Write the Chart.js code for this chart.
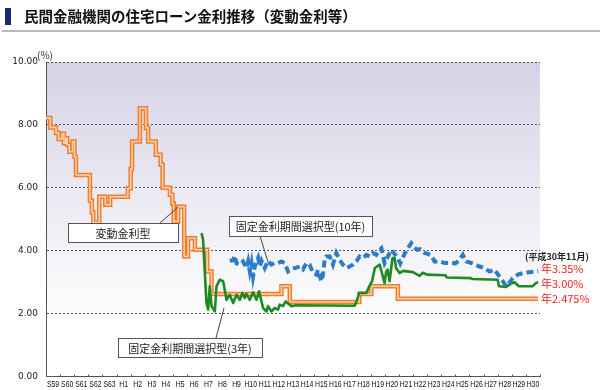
<!DOCTYPE html>
<html>
<head>
<meta charset="utf-8">
<script src="https://cdn.jsdelivr.net/npm/chart.js"></script>
<style>
  body { margin: 0; background: #fff; }
  #wrap { position: relative; width: 600px; height: 390px; overflow: hidden; }
  #bar { position: absolute; left: 5px; top: 8px; width: 6px; height: 17px; background: #1e2a78; }
  #title { position: absolute; left: 24px; top: 5px; font: bold 14.5px "Noto Sans CJK JP", sans-serif; color: #111; white-space: nowrap; }
  #rule { position: absolute; left: 2px; right: 0; top: 30px; height: 2px; background: #b8b8b8; }
  canvas { position: absolute; left: 0; top: 0; }
</style>
</head>
<body>
<div id="wrap">
  <canvas id="chart" width="600" height="390"></canvas>
  <div id="bar"></div>
  <div id="title">民間金融機関の住宅ローン金利推移（変動金利等）</div>
  <div id="rule"></div>
</div>
<script>
// x axis: one label per year, S59 (1984) .. H30 (2018)
const xTickLabels = ["S59","S60","S61","S62","S63","H1","H2","H3","H4","H5","H6","H7","H8","H9","H10",
  "H11","H12","H13","H14","H15","H16","H17","H18","H19","H20","H21","H22","H23","H24","H25","H26",
  "H27","H28","H29","H30"];
const firstYear = 1984;
const yTicks = [0, 2, 4, 6, 8, 10];

// 変動金利型 (step changes: time the rate took effect, rate %)
const hendoTimes = [1984.0, 1984.3, 1984.71, 1984.9, 1985.15, 1985.27, 1985.4, 1985.5, 1985.65, 1985.88,
  1986.02, 1986.12, 1987.11, 1987.25, 1987.35, 1987.77, 1988.2, 1988.55, 1989.8, 1990.0, 1990.1,
  1990.65, 1991.08, 1991.24, 1991.78, 1992.12, 1992.26, 1992.78, 1992.95, 1993.05, 1993.36, 1993.79,
  1994.07, 1994.55, 1995.42, 1995.73, 2000.68, 2001.27, 2006.2, 2007.05, 2008.93, 2018.87];
const hendoRates = [8.22, 7.92, 7.74, 7.55, 7.72, 7.42, 7.58, 7.37, 7.15, 7.47,
  6.99, 6.41, 5.6, 5.22, 4.9, 5.72, 5.46, 5.72, 5.99, 6.6, 7.47,
  8.53, 7.9, 7.47, 7.05, 6.73, 6.0, 5.78, 5.5, 4.93, 5.4, 3.82,
  4.4, 4.03, 3.34, 2.625, 2.875, 2.375, 2.625, 2.875, 2.475, 2.475];

// 固定金利期間選択型 (3年)
const kotei3Times = [1995.02, 1995.13, 1995.37, 1995.49, 1995.6, 1995.73, 1995.96, 1996.08, 1996.31, 1996.55,
  1996.79, 1997.02, 1997.26, 1997.5, 1997.73, 1997.92, 1998.08, 1998.2, 1998.44, 1998.67, 1998.91,
  1999.1, 1999.38, 1999.62, 1999.73, 1999.97, 2000.21, 2000.44, 2000.56, 2000.79, 2000.98, 2001.39,
  2001.74, 2005.87, 2006.0, 2006.2, 2006.7, 2006.9, 2007.1, 2007.3, 2007.64, 2007.99, 2008.1,
  2008.2, 2008.34, 2008.55, 2008.7, 2008.8, 2009.05, 2009.3, 2010.0, 2010.47, 2010.7, 2011.0,
  2012.3, 2012.4, 2014.1, 2014.2, 2016.0, 2016.1, 2016.6, 2017.0, 2017.2, 2017.5, 2018.47,
  2018.7, 2018.87];
const kotei3Rates = [4.56, 4.35, 2.34, 2.13, 2.87, 2.24, 2.07, 2.87, 3.08, 3.03,
  2.44, 2.6, 2.34, 2.6, 2.44, 2.66, 2.5, 2.63, 2.44, 2.68, 2.44,
  2.71, 2.18, 2.07, 2.24, 2.07, 2.18, 2.13, 2.29, 2.24, 2.39, 2.24,
  2.27, 2.25, 2.39, 2.66, 2.66, 2.87, 3.03, 3.45, 3.56, 2.97, 3.34,
  3.4, 3.03, 3.77, 3.77, 3.45, 3.29, 3.36, 3.32, 3.2, 3.3, 3.24,
  3.22, 3.15, 3.13, 3.1, 3.08, 2.87, 2.85, 2.97, 3.0, 2.87, 2.87,
  2.97, 3.0];

// 固定金利期間選択型 (10年)
const kotei10Times = [1997.02, 1997.26, 1997.38, 1997.5, 1997.73, 1997.96, 1998.2, 1998.32, 1998.44, 1998.56,
  1998.67, 1998.79, 1999.03, 1999.15, 1999.27, 1999.5, 1999.73, 1999.97, 2000.21, 2000.44,
  2000.68, 2000.91, 2001.15, 2001.39, 2001.62, 2001.98, 2002.21, 2002.45, 2002.68, 2002.92,
  2003.16, 2003.27, 2003.51, 2003.62, 2003.74, 2003.86, 2004.1, 2004.33, 2004.57, 2004.81,
  2005.04, 2005.28, 2005.51, 2005.75, 2005.99, 2006.22, 2006.46, 2006.7, 2006.93, 2007.16,
  2007.4, 2007.64, 2007.76, 2007.99, 2008.2, 2008.46, 2008.7, 2008.93, 2009.1, 2009.4,
  2009.64, 2009.88, 2010.1, 2010.3, 2010.5, 2010.82, 2011.05, 2011.3, 2011.53, 2011.9,
  2012.24, 2012.7, 2013.0, 2013.3, 2013.53, 2013.77, 2014.2, 2014.71, 2015.1, 2015.42,
  2015.78, 2016.13, 2016.37, 2016.6, 2016.8, 2017.07, 2017.43, 2017.8, 2018.25, 2018.87];
const kotei10Rates = [3.68, 3.7, 3.84, 3.6, 3.56, 3.66, 3.45, 3.66, 3.34, 3.6,
  3.18, 3.5, 3.77, 3.5, 3.68, 3.45, 3.68, 3.56, 3.61, 3.61,
  3.66, 3.61, 3.34, 3.41, 3.45, 3.5, 3.41, 3.61, 3.56, 3.29,
  3.24, 3.39, 3.03, 3.24, 3.71, 3.82, 3.82, 3.56, 3.93, 3.71,
  3.56, 3.45, 3.5, 3.56, 3.66, 3.82, 3.77, 3.87, 3.82, 3.93,
  3.87, 4.03, 4.08, 3.61, 3.8, 4.03, 3.9, 3.77, 3.6, 3.9,
  4.08, 4.24, 4.1, 4.03, 4.05, 3.93, 3.9, 3.85, 3.66, 3.66,
  3.61, 3.61, 3.6, 3.71, 3.87, 3.66, 3.6, 3.5, 3.45, 3.34,
  3.4, 3.18, 3.03, 2.87, 2.97, 3.13, 3.24, 3.29, 3.32, 3.35];

const endLabels = ["年3.35%", "年3.00%", "年2.475%"];

const toPoints = (xs, ys) => xs.map((x, i) => ({ x: x, y: ys[i] }));
const hendo = toPoints(hendoTimes, hendoRates);
const kotei3 = toPoints(kotei3Times, kotei3Rates);
const kotei10 = toPoints(kotei10Times, kotei10Rates);

const JP = '"Noto Sans CJK JP", sans-serif';

const plotBg = {
  id: 'plotBg',
  beforeDraw(chart) {
    const { ctx, chartArea: a } = chart;
    const g = ctx.createLinearGradient(0, a.top, 0, a.bottom);
    g.addColorStop(0, '#d6d2e6');
    g.addColorStop(0.55, '#f1f0f6');
    g.addColorStop(0.85, '#ffffff');
    ctx.save();
    ctx.fillStyle = g;
    ctx.fillRect(a.left, a.top, a.right - a.left, a.bottom - a.top);
    ctx.restore();
  }
};

const notes = {
  id: 'notes',
  afterDraw(chart) {
    const ctx = chart.ctx;
    const xs = chart.scales.x;
    const bottom = chart.chartArea.bottom;
    ctx.save();

    // small year ticks sitting on the axis, labels narrow like the original
    ctx.strokeStyle = '#555';
    ctx.lineWidth = 1;
    ctx.beginPath();
    xTickLabels.forEach((t, i) => {
      const px = Math.round(xs.getPixelForValue(firstYear + i + 1)) + 0.5;
      ctx.moveTo(px, bottom - 2);
      ctx.lineTo(px, bottom);
    });
    ctx.stroke();

    ctx.fillStyle = '#111';
    ctx.font = '9.5px "Liberation Sans", sans-serif';
    ctx.textAlign = 'center';
    ctx.textBaseline = 'top';
    xTickLabels.forEach((t, i) => {
      ctx.save();
      ctx.translate(xs.getPixelForValue(firstYear + i + 0.5), 380);
      ctx.scale(0.72, 1);
      ctx.fillText(t, 0, 0);
      ctx.restore();
    });

    ctx.textBaseline = 'middle';
    ctx.fillStyle = '#333';
    ctx.font = '10px ' + JP;
    ctx.fillText('(%)', 45, 55);

    const leader = (x1, y1, x2, y2) => {
      ctx.strokeStyle = '#444';
      ctx.lineWidth = 1;
      ctx.beginPath();
      ctx.moveTo(x1, y1);
      ctx.lineTo(x2, y2);
      ctx.stroke();
    };
    const box = (x, y, w, h, text) => {
      ctx.fillStyle = '#fff';
      ctx.fillRect(x, y, w, h);
      ctx.strokeStyle = '#555';
      ctx.lineWidth = 1;
      ctx.strokeRect(x + 0.5, y + 0.5, w, h);
      ctx.fillStyle = '#222';
      ctx.font = '11px ' + JP;
      ctx.textAlign = 'center';
      ctx.fillText(text, x + w / 2, y + h / 2 + 1);
    };
    leader(160, 223, 178, 207);
    box(68, 223, 110, 19, '変動金利型');
    leader(260, 236, 268, 262);
    box(229, 216, 143, 20, '固定金利期間選択型(10年)');
    leader(216, 338, 224, 308);
    box(118, 338, 144, 19, '固定金利期間選択型(3年)');

    ctx.fillStyle = '#222';
    ctx.font = 'bold 9px ' + JP;
    ctx.textAlign = 'center';
    ctx.fillText('(平成30年11月)', 557, 257);
    ctx.fillStyle = '#ff1a1a';
    ctx.font = '11px ' + JP;
    ctx.textAlign = 'left';
    endLabels.forEach((t, i) => ctx.fillText(t, 541, 269 + i * 15));
    ctx.restore();
  }
};

new Chart(document.getElementById('chart'), {
  type: 'line',
  data: {
    datasets: [
      { data: hendo, stepped: true, borderColor: '#f27e2b', borderWidth: 4.5, pointRadius: 0, order: 3 },
      { data: hendo, stepped: true, borderColor: '#fcd3b0', borderWidth: 1.5, pointRadius: 0, order: 2 },
      { data: kotei3, borderColor: '#1f8a22', borderWidth: 2.6, pointRadius: 0, order: 1, borderJoinStyle: 'round' },
      { data: kotei10, borderColor: '#2b7cc9', borderWidth: 4, borderDash: [7, 4], pointRadius: 0, order: 0 }
    ]
  },
  options: {
    responsive: false,
    animation: false,
    layout: { padding: { left: 0, top: 62, right: 60, bottom: 0 } },
    plugins: { legend: { display: false }, tooltip: { enabled: false } },
    scales: {
      x: {
        type: 'linear',
        min: firstYear,
        max: firstYear + xTickLabels.length,
        afterBuildTicks: s => { s.ticks = xTickLabels.map((_, i) => ({ value: firstYear + i })); },
        afterFit: s => { s.height = 13; },
        ticks: { display: false },
        grid: { display: false },
        border: { color: '#555', width: 1 }
      },
      y: {
        min: 0,
        max: 10,
        afterBuildTicks: s => { s.ticks = yTicks.map(v => ({ value: v })); },
        afterFit: s => { s.width = 46; },
        ticks: {
          padding: 8,
          color: '#222',
          font: { family: '"DejaVu Sans"', size: 9 },
          callback: v => v.toFixed(2)
        },
        grid: { color: '#555', drawTicks: false },
        border: { color: '#555', dash: [2, 2] }
      }
    }
  },
  plugins: [plotBg, notes]
});
</script>
</body>
</html>
